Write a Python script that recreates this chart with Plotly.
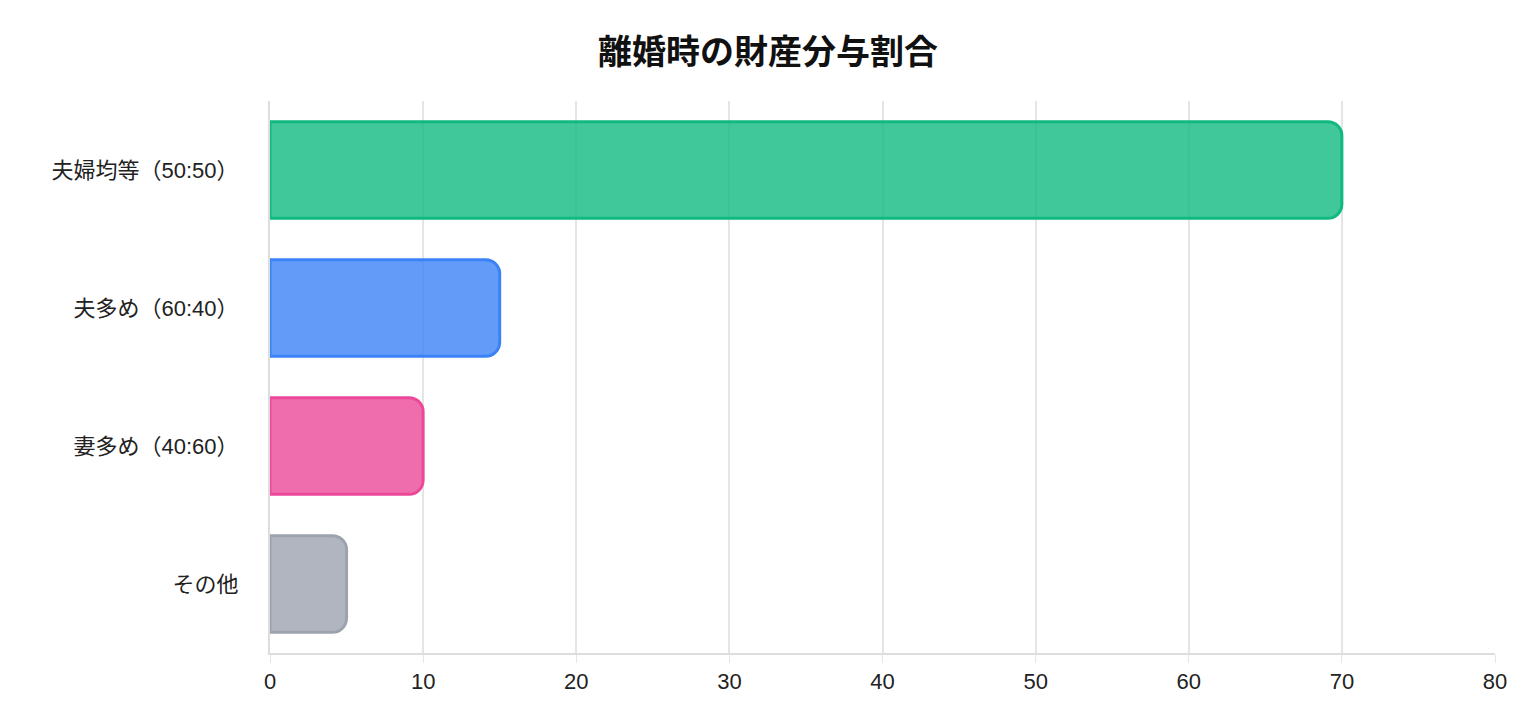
import plotly.graph_objects as go

categories = ["夫婦均等（50:50）", "夫多め（60:40）", "妻多め（40:60）", "その他"]
values = [70, 15, 10, 5]
fill_colors = ["rgba(16,185,129,0.8)", "rgba(59,130,246,0.8)", "rgba(236,72,153,0.8)", "rgba(156,163,175,0.8)"]
line_colors = ["#10b981", "#3b82f6", "#ec4899", "#9ca3af"]

font = "Liberation Sans, Noto Sans CJK JP, Arial, sans-serif"

fig = go.Figure(go.Bar(
    x=values, y=categories, orientation="h", width=0.7,
    marker=dict(color=fill_colors, line=dict(color=line_colors, width=3)),
    hoverinfo="x+y",
))

fig.update_layout(
    width=1520, height=720,
    paper_bgcolor="white", plot_bgcolor="white",
    margin=dict(l=262, r=33, t=93, b=75),
    barcornerradius=14,
    showlegend=False,
    font=dict(family=font, size=22, color="#222"),
    title=dict(text="<b>離婚時の財産分与割合</b>", x=0.5, xanchor="center", y=0.955,
               font=dict(size=34, color="#111")),
    xaxis=dict(range=[0, 80], dtick=10, showgrid=True, gridcolor="#e5e5e5", gridwidth=2,
               zeroline=False, showline=True, linecolor="#ddd", linewidth=2,
               tickfont=dict(size=22, color="#222"), ticks="outside", ticklen=8, tickcolor="#e5e5e5"),
    yaxis=dict(autorange="reversed", showgrid=False, showline=True, linecolor="#ddd", linewidth=2,
               tickfont=dict(size=22, color="#222"), ticks="", ticklabelstandoff=25),
)

fig.write_html("out.html")
